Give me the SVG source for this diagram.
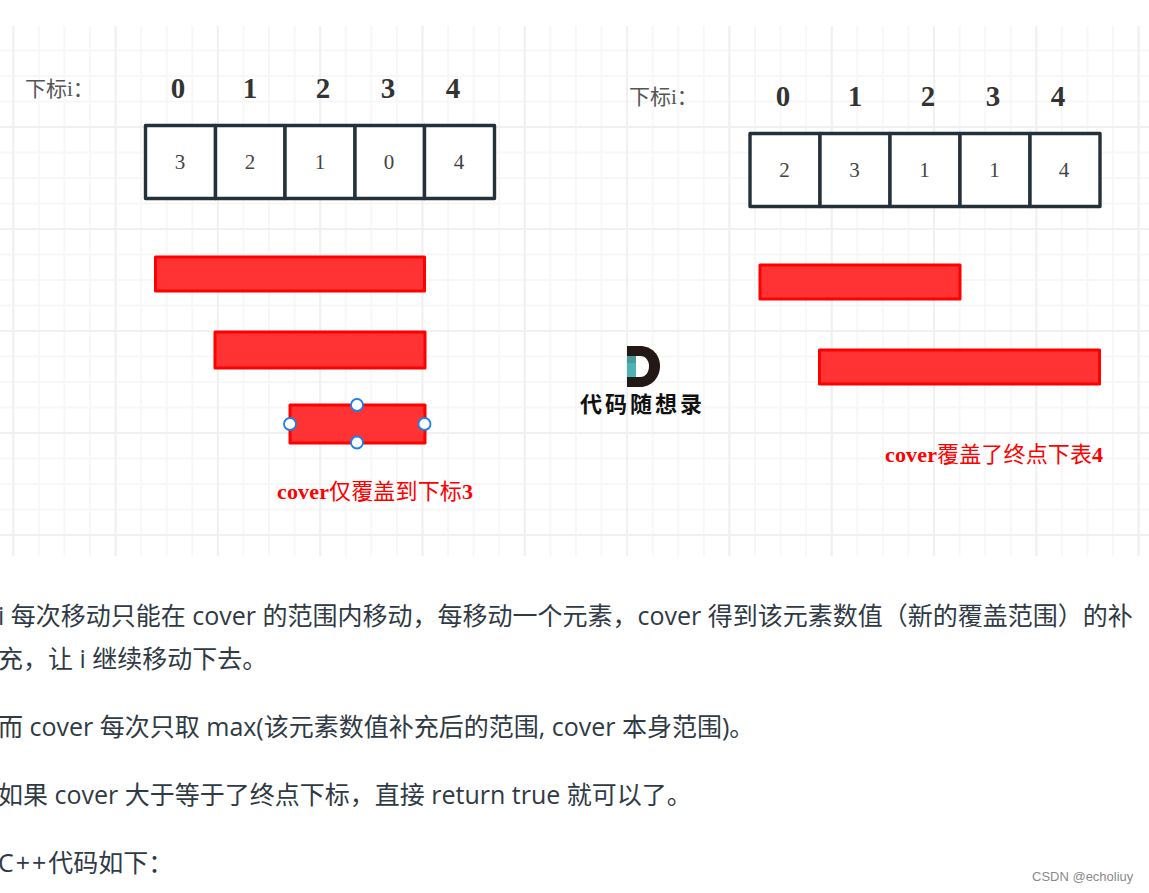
<svg xmlns="http://www.w3.org/2000/svg" width="1149" height="893" viewBox="0 0 1149 893">
<style>
.num{font:bold 29px "Liberation Serif","Noto Sans CJK SC",serif;fill:#333;text-anchor:middle}
.lab{font:21px "Liberation Serif","Noto Sans CJK SC",serif;fill:#555}
.val{font:21px "Liberation Serif",serif;fill:#444;text-anchor:middle}
.cell{fill:#fff;stroke:#24303a;stroke-width:3.4;stroke-linejoin:round}
.bar{fill:#ff3333;stroke:#ff0000;stroke-width:3;stroke-linejoin:round}
.cap{font:bold 22px "Liberation Serif","Noto Sans CJK SC",serif;fill:#ff0000;letter-spacing:.15px}
.cap tspan{font-weight:400}
.h{fill:#fff;stroke:#1f80ea;stroke-width:1.8}
.p{font:25px "Segoe UI","Open Sans","Noto Sans CJK SC",sans-serif;fill:#2f3a45}
</style>
<defs>
<pattern id="gmin" patternUnits="userSpaceOnUse" x="12.3" y="24" width="25.575" height="25.5"><path d="M1 0V25.5M0 1H25.575" fill="none" stroke="#f7f7f7" stroke-width="2"/></pattern>
<pattern id="gmaj" patternUnits="userSpaceOnUse" x="12.3" y="24" width="102.3" height="102"><path d="M1 0V102M0 1H102.3" fill="none" stroke="#f0f0f0" stroke-width="2"/></pattern>
</defs>
<rect width="1149" height="893" fill="#fff"/>
<g id="grid">
<rect x="0" y="26" width="1149" height="530" fill="url(#gmin)"/>
<rect x="0" y="26" width="1149" height="530" fill="url(#gmaj)"/>
</g>
<g id="connectors"></g>
<g id="left-array">
<text class="lab" x="25" y="96">下标i：</text>
<text class="num" x="178" y="98">0</text><text class="num" x="250" y="98">1</text><text class="num" x="323" y="98">2</text><text class="num" x="388" y="98">3</text><text class="num" x="453" y="98">4</text>
<rect class="cell" x="145.500" y="125.500" width="70" height="73"/><rect class="cell" x="215.500" y="125.500" width="69.500" height="73"/><rect class="cell" x="285" y="125.500" width="70" height="73"/><rect class="cell" x="355" y="125.500" width="69.500" height="73"/><rect class="cell" x="424.500" y="125.500" width="70" height="73"/>
<text class="val" x="180" y="169">3</text><text class="val" x="250" y="169">2</text><text class="val" x="320" y="169">1</text><text class="val" x="389" y="169">0</text><text class="val" x="459" y="169">4</text>
</g>
<g id="left-bars">
<rect class="bar" x="155.500" y="257" width="269" height="34"/>
<rect class="bar" x="215" y="332" width="210" height="36"/>
<rect class="bar" x="290" y="405" width="135" height="38"/>
<circle class="h" cx="357" cy="405" r="6"/><circle class="h" cx="290" cy="424" r="6"/><circle class="h" cx="424.500" cy="424" r="6"/><circle class="h" cx="357" cy="442.500" r="6"/>
<text class="cap" x="277" y="499">cover<tspan>仅覆盖到下标</tspan>3</text>
</g>
<g id="right-array">
<text class="lab" x="629" y="104">下标i：</text>
<text class="num" x="783" y="106">0</text><text class="num" x="855" y="106">1</text><text class="num" x="928" y="106">2</text><text class="num" x="993" y="106">3</text><text class="num" x="1058" y="106">4</text>
<rect class="cell" x="750" y="133.500" width="70" height="73"/><rect class="cell" x="820" y="133.500" width="70" height="73"/><rect class="cell" x="890" y="133.500" width="70" height="73"/><rect class="cell" x="960" y="133.500" width="70" height="73"/><rect class="cell" x="1030" y="133.500" width="70" height="73"/>
<text class="val" x="784.500" y="177">2</text><text class="val" x="854.500" y="177">3</text><text class="val" x="924.500" y="177">1</text><text class="val" x="994.500" y="177">1</text><text class="val" x="1064" y="177">4</text>
</g>
<g id="right-bars">
<rect class="bar" x="760" y="265" width="200" height="34"/>
<rect class="bar" x="819.500" y="350" width="280" height="34"/>
<text class="cap" x="885" y="462">cover<tspan>覆盖了终点下表</tspan>4</text>
</g>
<g id="logo">
<path d="M627 346H640C652 346 660 355 660 366C660 377 652 387 640 387H627Z" fill="#231815"/>
<path d="M636 356H640C646 356 649 361 649 366C649 372 646 377 640 377H636Z" fill="#fff"/>
<rect x="627" y="356" width="9" height="21" fill="#4fb3b5"/>
<rect x="627" y="356" width="9" height="7" fill="#4a9a9c"/>
<text x="580" y="412" style="font:700 22px 'Noto Sans CJK SC',sans-serif;letter-spacing:3px;fill:#111">代码随想录</text>
</g>
<g id="body-text">
<text class="p" x="-2" y="625">i 每次移动只能在 cover 的范围内移动，每移动一个元素，cover 得到该元素数值（新的覆盖范围）的补</text>
<text class="p" x="-2" y="668">充，让 i 继续移动下去。</text>
<text class="p" x="-2" y="736">而 cover 每次只取 max(该元素数值补充后的范围, cover 本身范围)。</text>
<text class="p" x="-2" y="804">如果 cover 大于等于了终点下标，直接 return true 就可以了。</text>
<text class="p" x="-2" y="872">C<tspan dx="2">+</tspan><tspan dx="2">+</tspan><tspan dx="2">代码如下：</tspan></text>
<text x="1032" y="881" style="font:13px 'Liberation Sans',sans-serif;fill:#8a8a8a">CSDN @echoliuy</text>
</g>
</svg>
